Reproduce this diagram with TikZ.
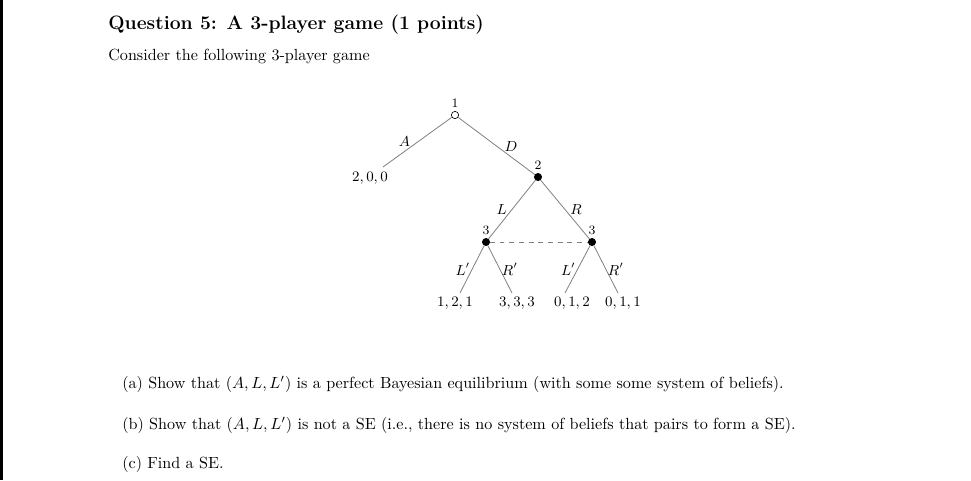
\documentclass[tikz,border=0pt]{standalone}
\begin{document}
\begin{tikzpicture}[x=0.62pt,y=-0.62pt,
  openvert/.style={circle, draw=black, fill=white, inner sep=0pt, minimum size=4.5pt},
  fullvert/.style={circle, draw=black, fill=black, inner sep=0pt, minimum size=4.5pt},
  branch/.style={draw=gray, line width=0.5pt},
  blab/.style={inner sep=0pt, font=\small},
  plab/.style={font=\small},
  vlab/.style={font=\footnotesize, inner sep=2pt}]
\useasboundingbox (0,0) rectangle (971,480);
\fill[black] (0,0) rectangle (3,480);

% Heading
\node[anchor=base west, inner sep=0pt] (title) at (108,29) {\large\bfseries Question 5: A 3-player game (1 points)};
\node[anchor=base west, inner sep=0pt] (intro) at (108,60) {Consider the following 3-player game};

% Decision nodes
\node[openvert] (n1) at (455,115) {};
\node[fullvert] (n2) at (538,177) {};
\node[fullvert] (n3l) at (486,242) {};
\node[fullvert] (n3r) at (592,242) {};
\node[vlab, above] at (n1.north) {1};
\node[vlab, above] at (n2.north) {2};
\node[vlab, above] at (n3l.north) {3};
\node[vlab, above] at (n3r.north) {3};

% Branch ends
\coordinate (e1) at (383,167);
\coordinate (e2) at (460,293);
\coordinate (e3) at (512,293);
\coordinate (e4) at (565,293);
\coordinate (e5) at (618,293);

% Branches
\draw[branch] (n1) -- (e1) node[blab, pos=0.6, above left] {$A$};
\draw[branch] (n1) -- (n2) node[blab, pos=0.6, above right] {$D$};
\draw[branch] (n2) -- (n3l) node[blab, pos=0.6, above left] {$L$};
\draw[branch] (n2) -- (n3r) node[blab, pos=0.6, above right] {$R$};
\draw[branch] (n3l) -- (e2) node[blab, midway, left=1pt] {$L'$};
\draw[branch] (n3l) -- (e3) node[blab, midway, right=1pt] {$R'$};
\draw[branch] (n3r) -- (e4) node[blab, midway, left=1pt] {$L'$};
\draw[branch] (n3r) -- (e5) node[blab, midway, right=1pt] {$R'$};

% Information set
\draw[branch, dashed] (n3l) -- (n3r);

% Payoffs
\node[plab] (p1) at (370,178) {$2,0,0$};
\node[plab] (p2) at (455,303) {$1,2,1$};
\node[plab] (p3) at (517,303) {$3,3,3$};
\node[plab] (p4) at (572,303) {$0,1,2$};
\node[plab] (p5) at (623,303) {$0,1,1$};

% Parts
\node[anchor=base west, inner sep=0pt] (qa) at (122,388) {(a) Show that $(A,L,L')$ is a perfect Bayesian equilibrium (with some some system of beliefs).};
\node[anchor=base west, inner sep=0pt] (qb) at (122,429) {(b) Show that $(A,L,L')$ is not a SE (i.e., there is no system of beliefs that pairs to form a SE).};
\node[anchor=base west, inner sep=0pt] (qc) at (122,468) {(c) Find a SE.};
\end{tikzpicture}
\end{document}
